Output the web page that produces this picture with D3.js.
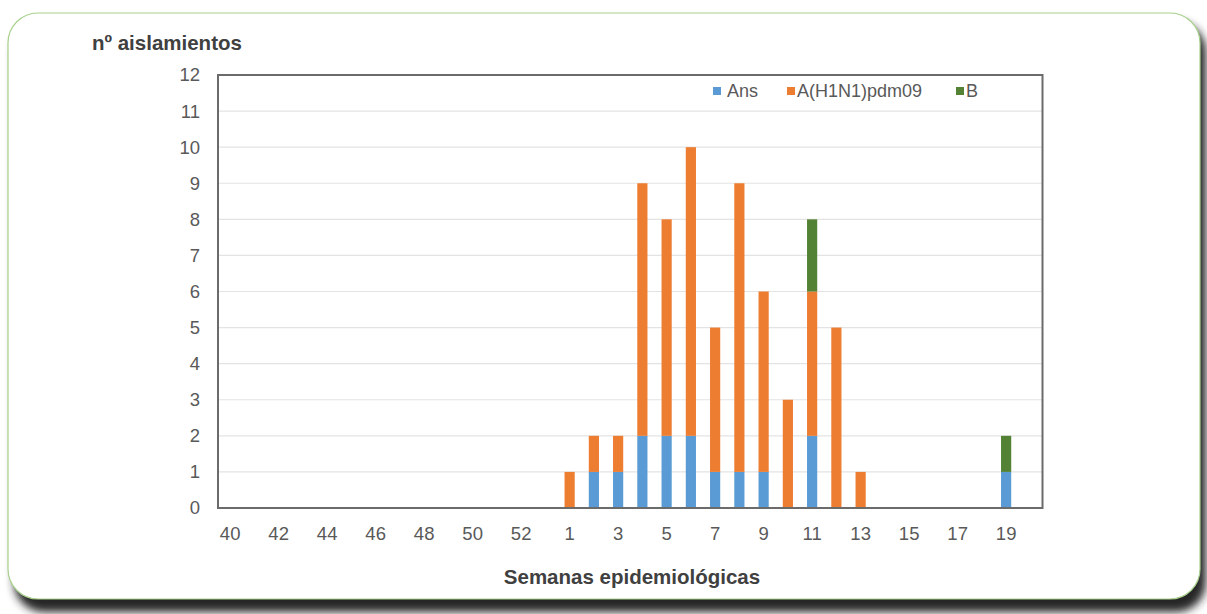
<!DOCTYPE html>
<html><head><meta charset="utf-8">
<script src="https://cdn.jsdelivr.net/npm/d3@7"></script>
<style>body{margin:0;background:#fff;}svg{display:block;font-family:"Liberation Sans",Arial,sans-serif;}</style>
</head><body>
<svg id="c" width="1207" height="614"></svg>
<script>
const weeks = ["40","41","42","43","44","45","46","47","48","49","50","51","52","53",
  "1","2","3","4","5","6","7","8","9","10","11","12","13","14","15","16","17","18","19","20"];
const tickLabels = ["40","42","44","46","48","50","52","1","3","5","7","9","11","13","15","17","19"];
const seriesNames = ["Ans","A(H1N1)pdm09","B"];
const ans  = [0,0,0,0,0,0,0,0,0,0,0,0,0,0, 0,1,1,2,2,2,1,1,1,0,2,0,0,0,0,0,0,0,1,0];
const h1n1 = [0,0,0,0,0,0,0,0,0,0,0,0,0,0, 1,1,1,7,6,8,4,8,5,3,4,5,1,0,0,0,0,0,0,0];
const bVals= [0,0,0,0,0,0,0,0,0,0,0,0,0,0, 0,0,0,0,0,0,0,0,0,0,2,0,0,0,0,0,0,0,1,0];
const colors = ["#5b9bd5","#ed7d31","#548235"];
const yTicks = d3.range(0,13);

const svg = d3.select("#c");
const defs = svg.append("defs");
const f = defs.append("filter").attr("id","sh").attr("x","-5%").attr("y","-5%").attr("width","110%").attr("height","120%");
f.append("feGaussianBlur").attr("stdDeviation",4);

// card shadow + card
svg.append("rect").attr("x",14).attr("y",22).attr("width",1192).attr("height",590).attr("rx",30)
  .attr("fill","#262626").attr("filter","url(#sh)");
svg.append("rect").attr("x",8).attr("y",13).attr("width",1192).attr("height",586).attr("rx",30)
  .attr("fill","#fff").attr("stroke","#a9d18e").attr("stroke-width",1.2);

const L=218, R=1042.5, T=75, B=508;
const x = d3.scaleBand().domain(weeks).range([L,R]).paddingInner(0.58).paddingOuter(0.29);
const y = d3.scaleLinear().domain([0,12]).range([B,T]);

// grid
svg.append("g").selectAll("line").data(yTicks.filter(d=>d>0&&d<12)).join("line")
  .attr("x1",L).attr("x2",R).attr("y1",d=>y(d)).attr("y2",d=>y(d))
  .attr("stroke","#e3e3e3").attr("stroke-width",1.2);

// stacked bars
const rows = weeks.map((w,i)=>({week:w,"Ans":ans[i],"A(H1N1)pdm09":h1n1[i],"B":bVals[i]}));
const stack = d3.stack().keys(seriesNames)(rows);
svg.append("g").selectAll("g").data(stack).join("g").attr("fill",(d,i)=>colors[i])
  .selectAll("rect").data(d=>d.filter(p=>p[1]>p[0])).join("rect")
  .attr("x",d=>x(d.data.week)).attr("width",x.bandwidth())
  .attr("y",d=>y(d[1])).attr("height",d=>y(d[0])-y(d[1]));

// frame
svg.append("rect").attr("x",L).attr("y",T).attr("width",R-L).attr("height",B-T)
  .attr("fill","none").attr("stroke","#6b6b6b").attr("stroke-width",2);

// y axis
const ya = svg.append("g").attr("transform",`translate(${L},0)`)
  .call(d3.axisLeft(y).tickValues(yTicks).tickSize(0).tickPadding(18));
ya.select(".domain").remove();
ya.selectAll("text").attr("font-size",18.5).attr("fill","#595959").attr("font-family","Liberation Sans, Arial, sans-serif");

// x axis
const xa = svg.append("g").attr("transform",`translate(0,${B})`)
  .call(d3.axisBottom(x).tickValues(tickLabels).tickSize(0).tickPadding(19));
xa.select(".domain").remove();
xa.selectAll("text").attr("font-size",18.5).attr("fill","#595959").attr("font-family","Liberation Sans, Arial, sans-serif");

// titles
svg.append("text").attr("x",92).attr("y",50).text("nº aislamientos")
  .attr("font-size",20.5).attr("font-weight","bold").attr("fill","#404040");
svg.append("text").attr("x",632).attr("y",584).attr("text-anchor","middle").text("Semanas epidemiológicas")
  .attr("font-size",20.5).attr("font-weight","bold").attr("fill","#404040");

// legend
const legX = [713, 787, 956];
const lg = svg.append("g").selectAll("g").data(seriesNames).join("g")
  .attr("transform",(d,i)=>`translate(${legX[i]},91)`);
lg.append("rect").attr("x",0).attr("y",-4).attr("width",8).attr("height",8).attr("fill",(d,i)=>colors[i]);
lg.append("text").attr("x",d=>d==="Ans"?14:10).attr("y",6).text(d=>d).attr("font-size",18).attr("fill","#595959");
</script>
</body></html>
